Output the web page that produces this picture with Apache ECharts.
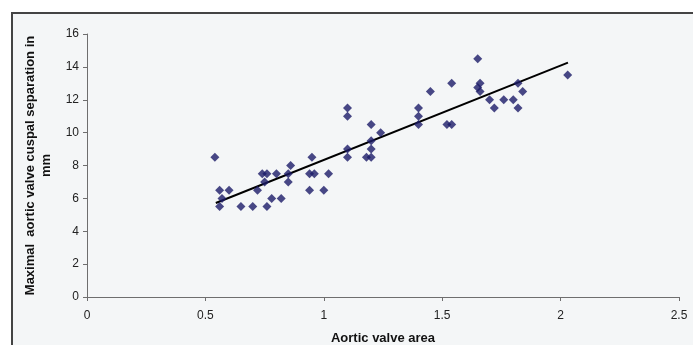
<!DOCTYPE html>
<html>
<head>
<meta charset="utf-8">
<script src="https://cdn.jsdelivr.net/npm/echarts@6/dist/echarts.min.js"></script>
<style>
html,body{margin:0;padding:0;background:#ffffff;}
#c{width:693px;height:345px;}
</style>
</head>
<body>
<div id="c"></div>
<script>
// Aortic valve area (x) values of the scatter points
const areaValues = [
  0.54, 0.56, 0.60, 0.57, 0.56, 0.65, 0.70, 0.76, 0.72, 0.74,
  0.76, 0.75, 0.78, 0.82, 0.80, 0.85, 0.85, 0.86, 0.94, 0.96,
  1.02, 0.94, 1.00, 0.95, 1.10, 1.10, 1.10, 1.10, 1.18, 1.20,
  1.20, 1.20, 1.20, 1.24, 1.40, 1.40, 1.40, 1.45, 1.52, 1.54,
  1.54, 1.65, 1.66, 1.65, 1.66, 1.70, 1.72, 1.76, 1.80, 1.82,
  1.84, 1.82, 2.03
];
// Maximal aortic valve cuspal separation (mm) values of the scatter points
const separationValues = [
  8.5, 6.5, 6.5, 6.0, 5.5, 5.5, 5.5, 5.5, 6.5, 7.5,
  7.5, 7.0, 6.0, 6.0, 7.5, 7.5, 7.0, 8.0, 7.5, 7.5,
  7.5, 6.5, 6.5, 8.5, 11.5, 11.0, 9.0, 8.5, 8.5, 8.5,
  9.0, 9.5, 10.5, 10.0, 11.5, 11.0, 10.5, 12.5, 10.5, 10.5,
  13.0, 14.5, 13.0, 12.75, 12.5, 12.0, 11.5, 12.0, 12.0, 13.0,
  12.5, 11.5, 13.5
];
// Linear trend line end points
const trendX = [0.544, 2.031];
const trendY = [5.72, 14.26];
// Tick values
const xTicks = [0, 0.5, 1, 1.5, 2, 2.5];
const yTicks = [0, 2, 4, 6, 8, 10, 12, 14, 16];

const scatterData = areaValues.map((x, i) => [x, separationValues[i]]);
const trendData = trendX.map((x, i) => [x, trendY[i]]);

const chart = echarts.init(document.getElementById('c'), null, {renderer: 'canvas'});
const axisLineStyle = {color: '#6e6e6e', width: 1};
const labelStyle = {color: '#222222', fontSize: 12, fontFamily: 'Liberation Sans, Arial, sans-serif'};
chart.setOption({
  animation: false,
  backgroundColor: 'transparent',
  graphic: [{
    type: 'rect',
    z: -10,
    silent: true,
    shape: {x: 12, y: 13, width: 720, height: 400},
    style: {fill: '#f4f6f7', stroke: '#444444', lineWidth: 2}
  }],
  grid: {left: 87, top: 34, right: 14, bottom: 48, containLabel: false, outerBoundsMode: 'none'},
  xAxis: {
    type: 'value',
    min: xTicks[0],
    max: xTicks[xTicks.length - 1],
    interval: xTicks[1] - xTicks[0],
    name: 'Aortic valve area',
    nameLocation: 'middle',
    nameGap: 35,
    nameTextStyle: {color: '#111111', fontSize: 13, fontWeight: 'bold', fontFamily: 'Liberation Sans, Arial, sans-serif'},
    splitLine: {show: false},
    axisLine: {show: true, lineStyle: axisLineStyle},
    axisTick: {show: true, inside: false, length: 4, lineStyle: axisLineStyle},
    axisLabel: Object.assign({margin: 13}, labelStyle)
  },
  yAxis: {
    type: 'value',
    min: yTicks[0],
    max: yTicks[yTicks.length - 1],
    interval: yTicks[1] - yTicks[0],
    name: 'Maximal  aortic valve cuspal separation in\nmm',
    nameLocation: 'middle',
    nameGap: 27,
    nameTextStyle: {color: '#111111', fontSize: 13, fontWeight: 'bold', lineHeight: 16, align: 'center', fontFamily: 'Liberation Sans, Arial, sans-serif'},
    splitLine: {show: false},
    axisLine: {show: true, lineStyle: axisLineStyle},
    axisTick: {show: true, inside: false, length: 4, lineStyle: axisLineStyle},
    axisLabel: Object.assign({margin: 8}, labelStyle)
  },
  series: [
    {
      type: 'line',
      data: trendData,
      symbol: 'none',
      lineStyle: {color: '#000000', width: 2},
      z: 3
    },
    {
      type: 'scatter',
      data: scatterData,
      symbol: 'diamond',
      symbolSize: 9,
      itemStyle: {color: '#1c1c68'},
      z: 4
    }
  ]
});
</script>
</body>
</html>
